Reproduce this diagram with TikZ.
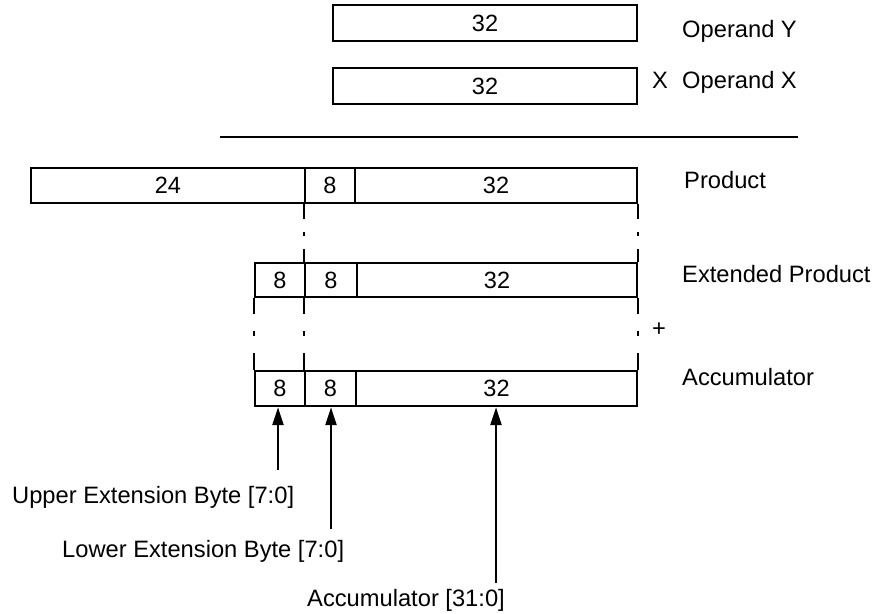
\documentclass[tikz,border=0pt]{standalone}
\usepackage{fontspec}
\setmainfont{Liberation Sans}
\usetikzlibrary{arrows.meta}
\begin{document}
\begin{tikzpicture}[x=1pt,y=-1pt,
  cell/.style={draw, line width=2.4pt, inner sep=0pt, font=\fontsize{23.5}{28}\selectfont},
  lbl/.style={inner sep=0pt, font=\fontsize{23.7}{28}\selectfont},
  guide/.style={line width=2.4pt},
  gapA/.style={guide, dash pattern=on 15pt off 13pt on 4pt off 13pt on 40pt},
  gapB/.style={guide, dash pattern=on 16pt off 17pt on 5pt off 17pt on 40pt},
  arr/.style={line width=2.4pt, -{Triangle[length=18pt,width=11pt]}}]
\useasboundingbox (0,0) rectangle (877,613);

% operands
\node[cell, minimum width=304pt, minimum height=36pt] (oy) at (485,23) {32};
\node[cell, minimum width=304pt, minimum height=36pt] (ox) at (485,86) {32};
\draw[guide] (220,137) -- (798,137);

% product
\node[cell, minimum width=274pt, minimum height=35pt] (p24) at (168,185.5) {24};
\node[cell, minimum width=50pt, minimum height=35pt] (p8) at (330,185.5) {8};
\node[cell, minimum width=282pt, minimum height=35pt] (p32) at (496,185.5) {32};

% extended product
\node[cell, minimum width=50pt, minimum height=34pt] (e8a) at (280,280) {8};
\node[cell, minimum width=52pt, minimum height=34pt] (e8b) at (331,280) {8};
\node[cell, minimum width=280pt, minimum height=34pt] (e32) at (497,280) {32};

% accumulator
\node[cell, minimum width=50pt, minimum height=35pt] (a8a) at (280,388.5) {8};
\node[cell, minimum width=51pt, minimum height=35pt] (a8b) at (330.5,388.5) {8};
\node[cell, minimum width=281pt, minimum height=35pt] (a32) at (496.5,388.5) {32};

% alignment guides
\draw[gapA] (p8.south west) -- (e8b.north west);
\draw[gapA] (p32.south east) -- (e32.north east);
\draw[gapB] (e8a.south west) -- (a8a.north west);
\draw[gapB] (e8b.south west) -- (a8b.north west);
\draw[gapB] (e32.south east) -- (a32.north east);

% right labels
\node[lbl, anchor=base west] (ly) at (682,37) {Operand Y};
\node[lbl, anchor=base west] (lxx) at (652,88) {X};
\node[lbl, anchor=base west] (lx) at (682,88) {Operand X};
\node[lbl, anchor=base west] (lp) at (684,188) {Product};
\node[lbl, anchor=base west] (le) at (682,282) {Extended Product};
\node[lbl, anchor=base west] (la) at (682,385) {Accumulator};
\node[lbl] (plus) at (659,330) {+};

% bottom labels
\node[lbl, anchor=base west] (ub) at (12,503) {Upper Extension Byte [7:0]};
\node[lbl, anchor=base west] (lb) at (62,557) {Lower Extension Byte [7:0]};
\node[lbl, anchor=base west] (ab) at (307,606) {Accumulator [31:0]};
\coordinate (u0) at (278,470);
\coordinate (l0) at (331,529);
\coordinate (c0) at (496,583);
\draw[arr] (u0) -- (u0 |- a8a.south);
\draw[arr] (l0) -- (l0 |- a8b.south);
\draw[arr] (c0) -- (c0 |- a32.south);
\end{tikzpicture}
\end{document}
